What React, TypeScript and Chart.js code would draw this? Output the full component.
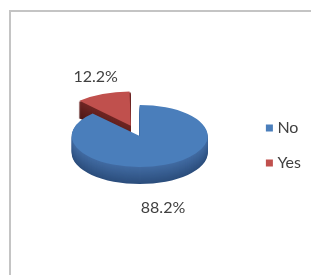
import React, { useEffect, useRef } from "react";
import { Chart, registerables } from "chart.js";

Chart.register(...registerables);

const CATEGORIES = ["No", "Yes"];
const VALUES = [88.2, 12.2];
const TOP_COLORS = ["#4A7EBB", "#C0504D"];
const SIDE_TOP = [[66, 108, 163], [112, 38, 36]];
const SIDE_BOTTOM = [[44, 78, 125], [78, 24, 22]];
const EXPLODE = [0, 96];

const TILT = 0.456;
const DEPTH = 17;
const LABEL_NUDGE = [[-2, 26], [-7, -17]];
const TEXT_COLOR = "#404040";
const FONT = "Lato, 'Open Sans', sans-serif";

function sliceGeom(arc: any) {
  const o = (arc.options.offset || 0) / 4;
  const circ = arc.circumference;
  const fix = 1 - Math.sin(Math.min(Math.PI, circ || 0));
  const h = (arc.startAngle + arc.endAngle) / 2;
  return {
    ox: arc.x + Math.cos(h) * o,
    oy: arc.y + Math.sin(h) * o,
    R: arc.outerRadius + o * fix,
    s: arc.startAngle,
    e: arc.endAngle,
    h,
  };
}

const pie3d = {
  id: "pie3d",
  beforeDatasetsDraw(chart: any) {
    const ctx = chart.ctx;
    const arcs = chart.getDatasetMeta(0).data;
    if (!arcs.length) return;
    const cy = arcs[0].y;
    arcs.forEach((arc: any, i: number) => {
      const g = sliceGeom(arc);
      const sy = cy + (g.oy - cy) * TILT;
      for (let dy = DEPTH; dy >= 1; dy--) {
        const t = dy / DEPTH;
        const c = SIDE_TOP[i].map((v, k) => Math.round(v + (SIDE_BOTTOM[i][k] - v) * t));
        ctx.fillStyle = `rgb(${c[0]},${c[1]},${c[2]})`;
        ctx.beginPath();
        ctx.moveTo(g.ox, sy + dy);
        ctx.ellipse(g.ox, sy + dy, g.R, g.R * TILT, 0, g.s, g.e);
        ctx.closePath();
        ctx.fill();
      }
    });
    ctx.save();
    ctx.translate(0, cy);
    ctx.scale(1, TILT);
    ctx.translate(0, -cy);
  },
  afterDatasetsDraw(chart: any) {
    const ctx = chart.ctx;
    ctx.restore();
    const arcs = chart.getDatasetMeta(0).data;
    if (!arcs.length) return;
    const cy = arcs[0].y;
    const vals = chart.data.datasets[0].data;
    ctx.save();
    ctx.fillStyle = TEXT_COLOR;
    ctx.font = `16px ${FONT}`;
    ctx.textAlign = "center";
    ctx.textBaseline = "middle";
    arcs.forEach((arc: any, i: number) => {
      const g = sliceGeom(arc);
      const px = g.ox + Math.cos(g.h) * g.R;
      let py = cy + (g.oy + Math.sin(g.h) * g.R - cy) * TILT;
      if (Math.sin(g.h) > 0) py += DEPTH;
      ctx.fillText(`${Number(vals[i]).toFixed(1)}%`, px + LABEL_NUDGE[i][0], py + LABEL_NUDGE[i][1]);
    });
    ctx.restore();
  },
};

export default function App() {
  const ref = useRef<HTMLCanvasElement>(null);
  useEffect(() => {
    if (!ref.current) return;
    const chart = new Chart(ref.current, {
      type: "pie",
      data: {
        labels: CATEGORIES,
        datasets: [
          {
            data: VALUES,
            backgroundColor: TOP_COLORS,
            borderWidth: 0,
            offset: EXPLODE,
            hoverOffset: 0,
          } as any,
        ],
      },
      options: {
        responsive: false,
        animation: false,
        devicePixelRatio: 1,
        radius: 68,
        layout: { padding: { left: 21, right: 8, top: 0, bottom: 11 } },
        events: [],
        plugins: {
          tooltip: { enabled: false },
          legend: {
            position: "right",
            align: "center",
            title: { display: true, text: "", padding: 0, font: { size: 19, lineHeight: 1 } },
            labels: {
              usePointStyle: true,
              pointStyle: "rect",
              boxWidth: 0.01,
              boxHeight: 7,
              padding: 19,
              color: TEXT_COLOR,
              font: { family: FONT, size: 16 },
            },
          },
        },
      } as any,
      plugins: [pie3d],
    });
    return () => chart.destroy();
  }, []);
  return (
    <div style={{ position: "relative", width: 311, height: 267, overflow: "hidden" }}>
      <div
        style={{
          position: "absolute",
          left: 1,
          top: 2,
          width: 400,
          height: 400,
          borderLeft: "2px solid #c4c4c4",
          borderTop: "2px solid #c4c4c4",
        }}
      />
      <canvas ref={ref} width={311} height={267} style={{ position: "absolute", left: 0, top: 0 }} />
    </div>
  );
}
